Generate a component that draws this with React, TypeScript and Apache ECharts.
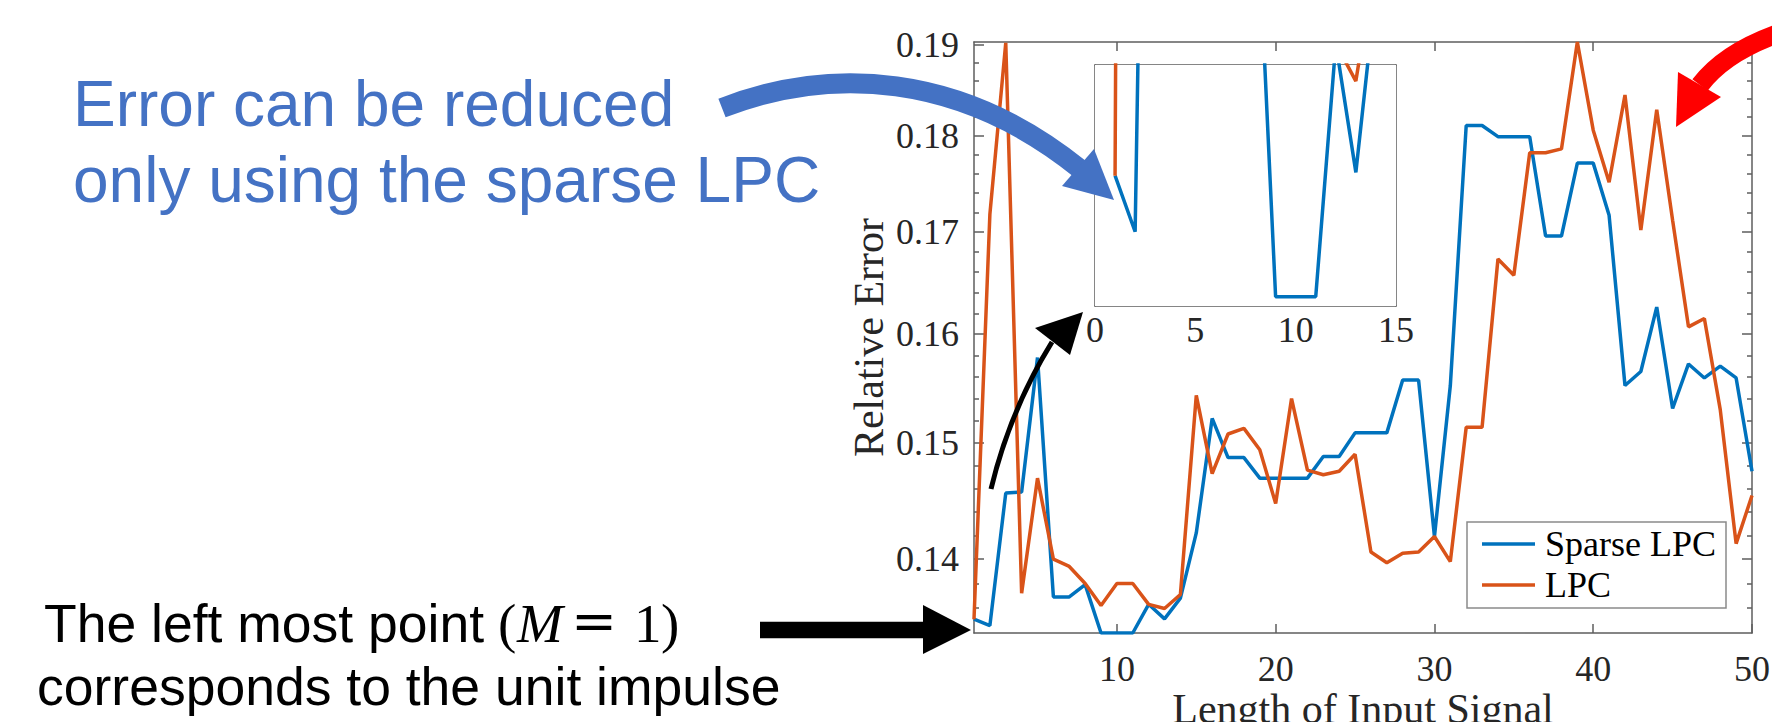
import { useEffect, useRef } from 'react';
import * as echarts from 'echarts';

// ---------- data ----------
const lengths = [1, 2, 3, 4, 5, 6, 7, 8, 9, 10, 11, 12, 13, 14, 15, 16, 17, 18, 19, 20, 21, 22, 23, 24, 25, 26, 27, 28, 29, 30, 31, 32, 33, 34, 35, 36, 37, 38, 39, 40, 41, 42, 43, 44, 45, 46, 47, 48, 49, 50];

const sparseLPC = [
  0.1351, 0.13459, 0.1456, 0.1457, 0.1578, 0.1369, 0.1369, 0.1379, 0.134, 0.134,
  0.134, 0.1363, 0.13513, 0.1368, 0.1422, 0.1522, 0.1487, 0.1487, 0.1469, 0.1469,
  0.1469, 0.1469, 0.1488, 0.1488, 0.1509, 0.1509, 0.1509, 0.1557, 0.1557, 0.1419,
  0.1552, 0.1811, 0.1811, 0.1799, 0.1799, 0.1799, 0.1696, 0.1696, 0.1771, 0.1771,
  0.1717, 0.1552, 0.1565, 0.1626, 0.1531, 0.1572, 0.1559, 0.157, 0.1559, 0.1475,
];

const lpc = [
  0.1351, 0.1718, 0.1902, 0.1372, 0.1469, 0.14, 0.1394, 0.138, 0.1362, 0.138,
  0.138, 0.1363, 0.13596, 0.1371, 0.1543, 0.1473, 0.1508, 0.1513, 0.1494, 0.1447,
  0.154, 0.1476, 0.1472, 0.1475, 0.149, 0.1406, 0.1397, 0.1405, 0.1406, 0.1419,
  0.1398, 0.1514, 0.1514, 0.1673, 0.1657, 0.1782, 0.1782, 0.1786, 0.1903, 0.1806,
  0.1751, 0.1844, 0.1702, 0.1828, 0.1712, 0.1607, 0.1615, 0.153, 0.1413, 0.1454,
];

const seriesNames = ['Sparse LPC', 'LPC'];

const yMajorTicks = [0.14, 0.15, 0.16, 0.17, 0.18, 0.19];
const yMinorTicks = [
  0.136, 0.138, 0.142, 0.144, 0.146, 0.148, 0.152, 0.154, 0.156, 0.158,
  0.162, 0.164, 0.166, 0.168, 0.172, 0.174, 0.176, 0.178, 0.182, 0.184, 0.186, 0.188,
];
const xMainTicks = [10, 20, 30, 40, 50];
const xTopTicks = [10, 20, 30, 40];
const insetXLabels = [0, 5, 10, 15];
const insetXTicks = [5, 10];
const insetYTicks = [
  0.134, 0.1341, 0.1342, 0.1343, 0.1344, 0.1345, 0.1346, 0.1347, 0.1348, 0.1349, 0.135,
  0.1351, 0.1352, 0.1353, 0.1354, 0.1355, 0.1356, 0.1357, 0.1358, 0.1359, 0.136, 0.1361,
];

const xLabel = 'Length of Input Signal';
const yLabel = 'Relative Error';
const noteTop = ['Error can be reduced', 'only using the sparse LPC'];
const noteBottom = ['The left most point', 'corresponds to the unit impulse'];

// ---------- styles ----------
const BLUE = '#0072BD';
const ORANGE = '#D95319';
const AXIS = '#5e5e5e';
const TXT = '#262626';
const SERIF = '"Liberation Serif", "Times New Roman", serif';
const SANS = '"Liberation Sans", Arial, sans-serif';
const MATH = '"DejaVu Serif", serif';
const LW = 3.5;

const Y_MIN = 0.134;
const Y_MAX = 0.1903;
const IN_Y_MIN = 0.133915;
const IN_Y_MAX = 0.136106;

const axisLine = { show: true, onZero: false, lineStyle: { color: AXIS, width: 1.5 } };
const noLine = { show: false, onZero: false };
const tickStyle = { color: AXIS, width: 1.5 };

function pairs(vals: number[]) {
  return lengths.map((x, i) => [x, vals[i]]);
}

function txt(text: string, x: number, y: number, size: number, family: string, fill: string, italic = false) {
  return {
    type: 'text',
    x,
    y,
    z: 100,
    silent: true,
    style: {
      text,
      fontSize: size,
      fontFamily: family,
      fontStyle: italic ? 'italic' : 'normal',
      fill,
      align: 'left',
      verticalAlign: 'middle',
      textAlign: 'left',
      textVerticalAlign: 'middle',
    },
  };
}

function buildOption() {
  const mk = (i: number, xi: number, yi: number, vals: number[], color: string) => ({
    name: seriesNames[i], type: 'line', xAxisIndex: xi, yAxisIndex: yi,
    data: pairs(vals), symbol: 'none', showSymbol: false, silent: true, clip: true,
    lineStyle: { color, width: LW }, itemStyle: { color },
  });

  const logY = (extra: any) => ({
    gridIndex: 0, type: 'log', min: Y_MIN, max: Y_MAX, splitLine: { show: false },
    ...extra,
  });
  const insetY = (extra: any) => ({
    gridIndex: 1, type: 'value', min: IN_Y_MIN, max: IN_Y_MAX, splitLine: { show: false },
    axisLabel: { show: false },
    axisLine,
    axisTick: { show: true, inside: true, length: 5, customValues: insetYTicks, lineStyle: tickStyle },
    ...extra,
  });

  return {
    animation: false,
    backgroundColor: '#ffffff',
    grid: [
      { left: 974, right: 20, top: 42, bottom: 89, containLabel: false, outerBoundsMode: 'none' },
      {
        left: 1095, top: 65, width: 301, height: 241, show: true, backgroundColor: '#ffffff',
        borderWidth: 0, z: 3, containLabel: false, outerBoundsMode: 'none',
      },
    ],
    legend: {
      data: seriesNames.map((n) => ({ name: n, icon: 'rect' })),
      orient: 'vertical',
      left: 1467,
      top: 522,
      padding: [4, 10, 5, 15],
      itemGap: 5,
      itemWidth: 53,
      itemHeight: 3.5,
      backgroundColor: '#ffffff',
      borderColor: '#8a8a8a',
      borderWidth: 1.5,
      selectedMode: false,
      textStyle: { fontSize: 36, fontFamily: SERIF, color: '#000', padding: [0, 0, 0, 5] },
    },
    xAxis: [
      {
        gridIndex: 0, type: 'value', min: 1, max: 50, position: 'bottom',
        axisLine, splitLine: { show: false },
        axisTick: { show: true, inside: true, length: 9, customValues: xMainTicks, lineStyle: tickStyle },
        axisLabel: {
          customValues: xMainTicks, fontSize: 36, lineHeight: 28, fontFamily: SERIF, color: TXT, margin: 22,
        },
        name: xLabel, nameLocation: 'middle', nameGap: 55, nameMoveOverlap: false,
        nameTextStyle: { fontSize: 42, fontFamily: SERIF, color: TXT },
      },
      {
        gridIndex: 0, type: 'value', min: 1, max: 50, position: 'top',
        axisLine, splitLine: { show: false }, axisLabel: { show: false },
        axisTick: { show: true, inside: true, length: 9, customValues: xTopTicks, lineStyle: tickStyle },
      },
      {
        gridIndex: 1, type: 'value', min: 0, max: 15, position: 'bottom',
        axisLine, splitLine: { show: false },
        axisTick: { show: true, inside: true, length: 8, customValues: insetXTicks, lineStyle: tickStyle },
        axisLabel: { customValues: insetXLabels, fontSize: 36, fontFamily: SERIF, color: TXT, margin: 6 },
      },
      {
        gridIndex: 1, type: 'value', min: 0, max: 15, position: 'top',
        axisLine, splitLine: { show: false }, axisLabel: { show: false },
        axisTick: { show: true, inside: true, length: 8, customValues: insetXTicks, lineStyle: tickStyle },
      },
    ],
    yAxis: [
      logY({
        position: 'left', axisLine,
        axisTick: { show: true, inside: true, length: 10, customValues: yMajorTicks, lineStyle: tickStyle },
        axisLabel: {
          customValues: yMajorTicks, fontSize: 36, fontFamily: SERIF, color: TXT, margin: 15,
          formatter: (v: number) => Number(v).toFixed(2),
        },
        name: yLabel, nameLocation: 'middle', nameGap: 84,
        nameTextStyle: { fontSize: 42, fontFamily: SERIF, color: TXT },
      }),
      logY({
        position: 'left', axisLine: noLine, axisLabel: { show: false },
        axisTick: { show: true, inside: true, length: 5, customValues: yMinorTicks, lineStyle: tickStyle },
      }),
      logY({
        position: 'right', axisLine, axisLabel: { show: false },
        axisTick: { show: true, inside: true, length: 10, customValues: yMajorTicks, lineStyle: tickStyle },
      }),
      logY({
        position: 'right', axisLine: noLine, axisLabel: { show: false },
        axisTick: { show: true, inside: true, length: 5, customValues: yMinorTicks, lineStyle: tickStyle },
      }),
      insetY({ position: 'left' }),
      insetY({ position: 'right' }),
    ],
    series: [
      mk(0, 0, 0, sparseLPC, BLUE),
      mk(1, 0, 0, lpc, ORANGE),
      mk(0, 2, 4, sparseLPC, BLUE),
      mk(1, 2, 4, lpc, ORANGE),
    ],
    graphic: {
      elements: [
        // blue annotation
        txt(noteTop[0], 73, 103.5, 64, SANS, '#4472C4'),
        txt(noteTop[1], 73, 179.5, 64, SANS, '#4472C4'),
        {
          type: 'bezierCurve', z: 100, silent: true,
          shape: { x1: 722, y1: 108, cpx1: 830, cpy1: 66, cpx2: 960, cpy2: 72, x2: 1080, y2: 169 },
          style: { stroke: '#4472C4', lineWidth: 20, fill: 'none' },
        },
        {
          type: 'polygon', z: 100, silent: true,
          shape: { points: [[1094, 149], [1114, 200], [1062, 186]] },
          style: { fill: '#4472C4' },
        },
        // red arrow
        {
          type: 'bezierCurve', z: 100, silent: true,
          shape: { x1: 1795, y1: 28, cpx1: 1728, cpy1: 48, x2: 1700, y2: 85 },
          style: { stroke: '#FF0000', lineWidth: 19, fill: 'none' },
        },
        {
          type: 'polygon', z: 100, silent: true,
          shape: { points: [[1678, 72], [1721, 97], [1676, 127]] },
          style: { fill: '#FF0000' },
        },
        // black curved arrow
        {
          type: 'bezierCurve', z: 100, silent: true,
          shape: { x1: 991, y1: 489, cpx1: 1010, cpy1: 410, x2: 1052, y2: 342 },
          style: { stroke: '#000', lineWidth: 5, fill: 'none' },
        },
        {
          type: 'polygon', z: 100, silent: true,
          shape: { points: [[1035, 328], [1083, 312], [1070, 355]] },
          style: { fill: '#000' },
        },
        // black straight arrow
        {
          type: 'line', z: 100, silent: true,
          shape: { x1: 760, y1: 630, x2: 925, y2: 630 },
          style: { stroke: '#000', lineWidth: 16.5 },
        },
        {
          type: 'polygon', z: 100, silent: true,
          shape: { points: [[923, 605], [971, 630], [923, 654]] },
          style: { fill: '#000' },
        },
        // bottom-left annotation
        txt(noteBottom[0], 44, 623.2, 53.5, SANS, '#000'),
        txt('(', 498, 623.1, 55, SERIF, '#000'),
        txt('M', 517, 623.1, 55, SERIF, '#000', true),
        txt('=', 571, 621, 55, MATH, '#000'),
        txt('1', 634, 623.1, 55, SERIF, '#000'),
        txt(')', 661, 623.1, 55, SERIF, '#000'),
        txt(noteBottom[1], 37, 686.5, 53.5, SANS, '#000'),
      ],
    },
  };
}

export default function App() {
  const ref = useRef<HTMLDivElement>(null);
  useEffect(() => {
    if (!ref.current) return;
    const chart = echarts.init(ref.current, null, { renderer: 'svg' });
    chart.setOption(buildOption() as any);
    return () => chart.dispose();
  }, []);
  return (
    <div
      ref={ref}
      style={{ position: 'absolute', left: 0, top: 0, width: 1772, height: 722, background: '#fff' }}
    />
  );
}
